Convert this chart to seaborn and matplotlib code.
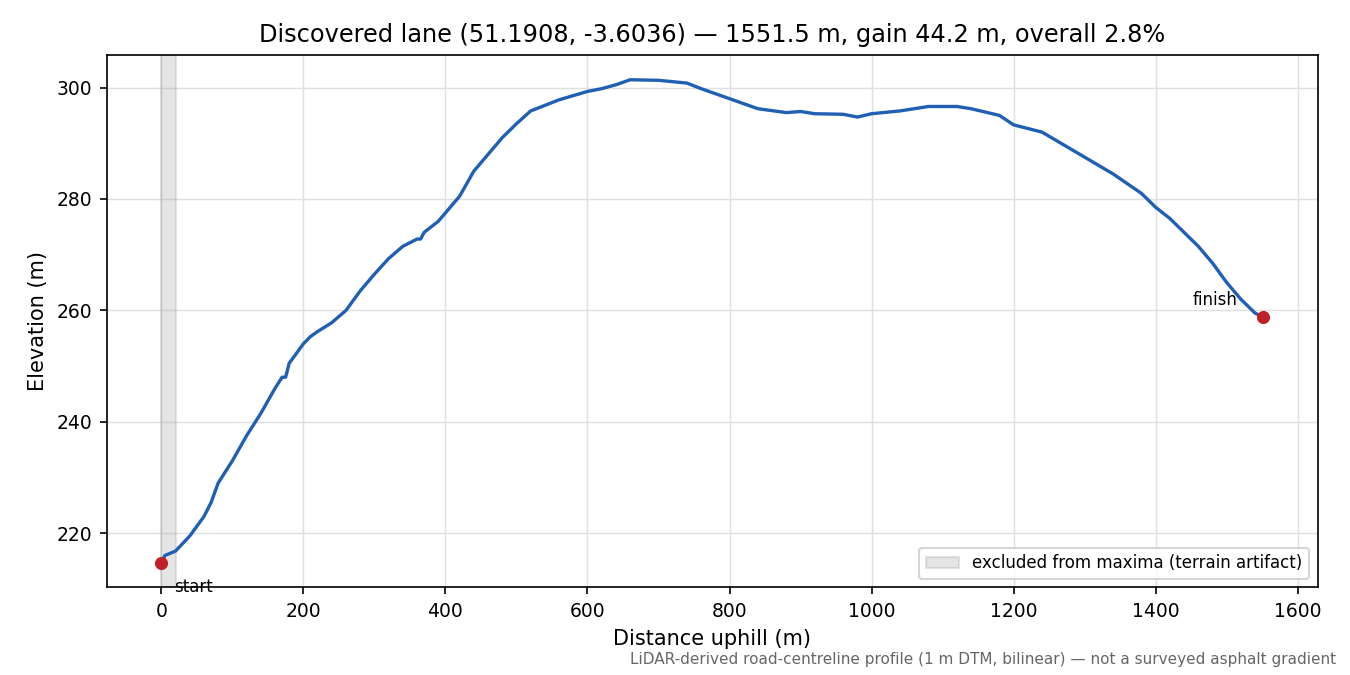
import matplotlib
matplotlib.use("Agg")
import matplotlib.pyplot as plt
import seaborn as sns
import pandas as pd

dist = [0, 5, 20, 40, 60, 70, 80, 100, 120, 140, 160, 170, 175, 180, 200, 210, 220, 240, 260, 280, 300, 320, 340, 360, 365, 370, 390, 400, 420, 440, 460, 480, 500, 520, 560, 600, 620, 640, 660, 700, 740, 760, 800, 840, 880, 900, 920, 960, 980, 1000, 1040, 1080, 1120, 1140, 1180, 1200, 1240, 1260, 1300, 1340, 1380, 1400, 1420, 1440, 1460, 1480, 1500, 1520, 1540, 1551.5]
elev = [214.6, 216, 216.8, 219.5, 223, 225.5, 229, 233, 237.5, 241.5, 246, 248, 248, 250.5, 254, 255.3, 256.2, 257.8, 260, 263.5, 266.5, 269.3, 271.5, 272.8, 272.8, 274, 276, 277.5, 280.5, 285, 288, 291, 293.5, 295.8, 297.8, 299.3, 299.8, 300.5, 301.4, 301.3, 300.8, 299.8, 298, 296.2, 295.5, 295.7, 295.3, 295.2, 294.7, 295.3, 295.8, 296.6, 296.6, 296.2, 295, 293.3, 292, 290.5, 287.5, 284.5, 281, 278.5, 276.5, 274, 271.5, 268.5, 265, 262, 259.5, 258.8]
excl = (0, 21)

df = pd.DataFrame({"d": dist, "e": elev})
sns.set_theme(style="ticks", rc={"text.color": "black", "axes.labelcolor": "black",
                                 "xtick.color": "black", "ytick.color": "black",
                                 "axes.linewidth": 0.8, "xtick.major.width": 0.8,
                                 "ytick.major.width": 0.8, "xtick.major.size": 3.5,
                                 "ytick.major.size": 3.5})
plt.rcParams['font.family'] = ['DejaVu Sans']
fig, ax = plt.subplots(figsize=(9, 4.5), dpi=150)
fig.subplots_adjust(left=0.079, right=0.976, top=0.919, bottom=0.130)
ax.axvspan(*excl, color="#999999", alpha=0.25, label="excluded from maxima (terrain artifact)")
sns.lineplot(data=df, x="d", y="e", ax=ax, color="#1f5fb4", lw=1.6)
ax.scatter([dist[0], dist[-1]], [elev[0], elev[-1]], color="#c0202a", s=28, zorder=5)
ax.annotate("start", (dist[0], elev[0]), xytext=(6, -14), textcoords="offset points", fontsize=8)
ax.annotate("finish", (dist[-1], elev[-1]), xytext=(-34, 6), textcoords="offset points", fontsize=8)
ax.set_xlim(-77, 1628)
ax.set_ylim(210.3, 305.9)
ax.set_xticks(range(0, 1601, 200))
ax.set_yticks(range(220, 301, 20))
ax.grid(True, color="#e0e0e0", lw=0.7)
for s in ax.spines.values():
    s.set_color("black")
ax.tick_params(labelsize=9)
ax.set_xlabel("Distance uphill (m)", fontsize=10)
ax.set_ylabel("Elevation (m)", fontsize=10)
ax.set_title("Discovered lane (51.1908, -3.6036) — 1551.5 m, gain 44.2 m, overall 2.8%", fontsize=11.5)
ax.legend(loc="lower right", fontsize=8)
fig.text(0.99, 0.012, "LiDAR-derived road-centreline profile (1 m DTM, bilinear) — not a surveyed asphalt gradient",
         ha="right", va="bottom", fontsize=7.3, color="#666666")
fig.savefig("out.png")
